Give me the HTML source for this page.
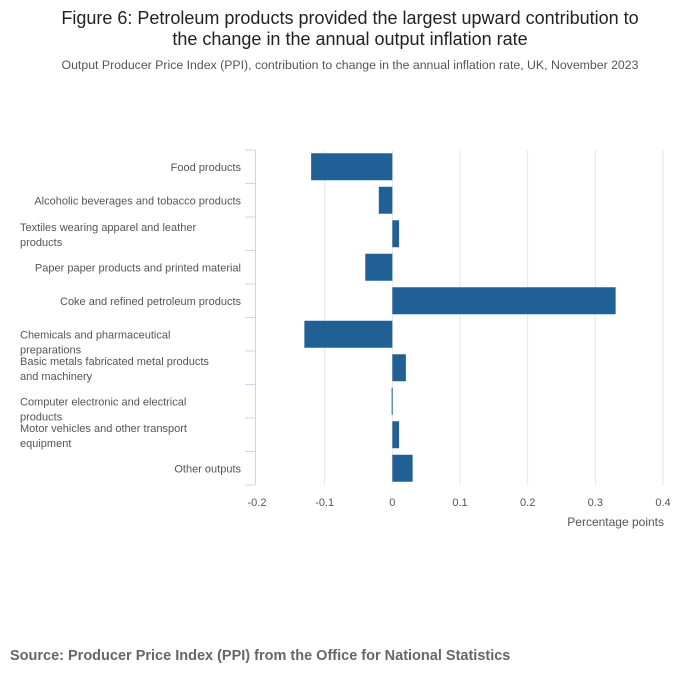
<!DOCTYPE html>
<html><head><meta charset="utf-8"><style>
body{margin:0;background:#fff;font-family:"Liberation Sans",sans-serif;}
svg text{font-family:"Liberation Sans",sans-serif;}
</style></head><body>
<svg id="chart" width="700" height="682" xmlns="http://www.w3.org/2000/svg">
<text x="350" y="24" text-anchor="middle" font-size="18" fill="#222">Figure 6: Petroleum products provided the largest upward contribution to</text>
<text x="350" y="45" text-anchor="middle" font-size="18" fill="#222">the change in the annual output inflation rate</text>
<text x="350" y="69" text-anchor="middle" font-size="12.3" fill="#555">Output Producer Price Index (PPI), contribution to change in the annual inflation rate, UK, November 2023</text>
<g id="grid"></g><g id="bars"></g><g id="yaxis"></g><g id="xaxis"></g>
<text x="664" y="526" text-anchor="end" font-size="12" fill="#555">Percentage points</text>
<text x="10" y="660" font-size="14.5" font-weight="bold" fill="#666">Source: Producer Price Index (PPI) from the Office for National Statistics</text>
</svg>
<script>
const categories=[["Food products"],["Alcoholic beverages and tobacco products"],["Textiles wearing apparel and leather","products"],["Paper paper products and printed material"],["Coke and refined petroleum products"],["Chemicals and pharmaceutical","preparations"],["Basic metals fabricated metal products","and machinery"],["Computer electronic and electrical","products"],["Motor vehicles and other transport","equipment"],["Other outputs"]];
const values=[-0.12,-0.02,0.01,-0.04,0.33,-0.13,0.02,-0.001,0.01,0.03];
const ticks=[-0.2,-0.1,0,0.1,0.2,0.3,0.4];
const tickLabels=["-0.2","-0.1","0","0.1","0.2","0.3","0.4"];
const NS="http://www.w3.org/2000/svg";
const x0=257,x1=663,yTop=150,yBot=485;
const xs=v=>x0+(v+0.2)/0.6*(x1-x0);
const rowH=(yBot-yTop)/categories.length;
const labelShift=[0,0,0,0,0,7,0,7,0,0];
function mk(t,a,p){const e=document.createElementNS(NS,t);for(const k in a)e.setAttribute(k,a[k]);p.appendChild(e);return e;}
const grid=document.getElementById('grid'),bars=document.getElementById('bars'),ya=document.getElementById('yaxis'),xa=document.getElementById('xaxis');
ticks.forEach((t,i)=>{
  if(i>0){const g=mk('line',{x1:xs(t),x2:xs(t),y1:yTop,y2:yBot,stroke:'#e6e6e6'},grid);
  
  }
  const l=mk('text',{x:xs(t),y:yBot+21,'text-anchor':'middle','font-size':11,fill:'#555'},xa);l.textContent=tickLabels[i];
  
  
});
const ax=mk('line',{x1:255.5,x2:255.5,y1:yTop,y2:yBot,stroke:'#ccd6eb'},ya);


for(let i=0;i<=categories.length;i++){const y=yTop+i*rowH;const t=mk('line',{x1:245,x2:255.5,y1:y,y2:y,stroke:'#ccd6eb'},ya);

}
categories.forEach((c,i)=>{
  const cy=yTop+(i+0.5)*rowH;
  const v=values[i];
  const bx=Math.min(xs(0),xs(v)),bw=Math.max(1,Math.abs(xs(v)-xs(0)));
  const r=mk('rect',{x:bx,y:cy-13.5,width:bw,height:27,fill:'#206095'},bars);
  
  
  const txt=mk('text',{'font-size':11,fill:'#555'},ya);
  if(c.length===1){txt.setAttribute('x',241);txt.setAttribute('y',cy+4);txt.setAttribute('text-anchor','end');txt.textContent=c[0];}
  else{c.forEach((s,j)=>{const ts=mk('tspan',{x:20,y:cy-3+labelShift[i]+j*15},txt);ts.textContent=s;});}
  
  
});
</script>
</body></html>
